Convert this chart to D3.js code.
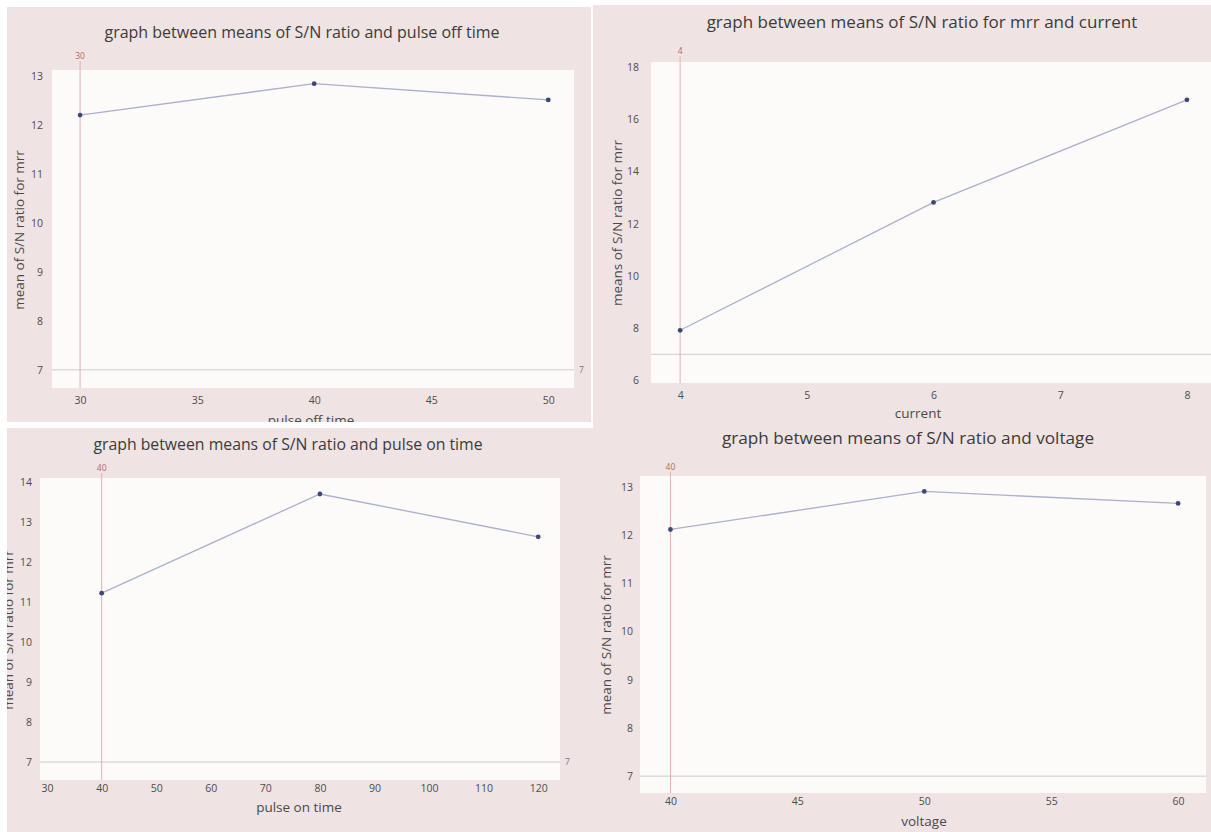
<!DOCTYPE html>
<html>
<head>
<meta charset="utf-8">
<script src="https://cdn.jsdelivr.net/npm/d3@7"></script>
<style>
	body{margin:0;background:#ffffff;}
	svg{display:block;}
	.panelBg{fill:#efe3e3;}
	.plotBg{fill:#fdfafa;}
	.title{font-family:"Open Sans",sans-serif;fill:#3b3b3b;text-anchor:middle;}
	.axisTitle{font-family:"Open Sans",sans-serif;font-size:13.5px;fill:#4a4a4a;text-anchor:middle;}
	.axis text{font-family:"Open Sans",sans-serif;font-size:10.5px;fill:#4d4d4d;}
	.refV{stroke:#e2b2b2;stroke-width:1;}
	.refH{stroke:#d3c9cd;stroke-width:1;}
	.refLabel{font-family:"Open Sans",sans-serif;font-size:8.5px;fill:#b46a6a;}
	.refLabelH{font-family:"Open Sans",sans-serif;font-size:8.5px;fill:#777777;}
	.meanLine{fill:none;stroke:#a9b1cd;stroke-width:1.3;}
	.meanPoint{fill:#3d4775;}
</style>
</head>
<body>
<script>
//wrap everything in a self-executing anonymous function to move to local scope
(function(){
	//data
	var offTime=[30,40,50];
	var offTimeSN=[12.2,12.84,12.51];
	var current=[4,6,8];
	var currentSN=[7.92,12.82,16.75];
	var onTime=[40,80,120];
	var onTimeSN=[11.22,13.7,12.63];
	var voltage=[40,50,60];
	var voltageSN=[12.12,12.91,12.66];

	//tick labels
	var offTimeTicks=[30,35,40,45,50];
	var currentTicks=[4,5,6,7,8];
	var onTimeTicks=[30,40,50,60,70,80,90,100,110,120];
	var voltageTicks=[40,45,50,55,60];
	var snTicks7to13=[7,8,9,10,11,12,13];
	var snTicks6to18=[6,8,10,12,14,16,18];
	var snTicks7to14=[7,8,9,10,11,12,13,14];

	//reference level drawn as a horizontal line in every plot
	var refLevel=7;

	var width=1211,
		height=832;

	var svg=d3.select("body")
		.append("svg")
		.attr("width",width)
		.attr("height",height);

	//panel layouts (drawn bottom ones first so the top-left sheet lies over them)
	var panels=[
		{
			bg:[589,419,622,413],plot:[640,476,566,317],rim:false,
			xDomain:[38.8,61.1],yDomain:[6.65,13.23],
			x:voltage,y:voltageSN,xTicks:voltageTicks,yTicks:snTicks7to13,
			title:"graph between means of S/N ratio and voltage",titlePos:[908,444],titleSize:17.2,
			xTitle:"voltage",xTitlePos:[924,826],
			yTitle:"mean of S/N ratio for mrr",yTitlePos:[606,635],
			xPad:5,yPad:7,refTop:472,showRight:false
		},
		{
			bg:[7,428,582,404],plot:[40,478,520,302],rim:false,
			xDomain:[28.7,124],yDomain:[6.55,14.1],
			x:onTime,y:onTimeSN,xTicks:onTimeTicks,yTicks:snTicks7to14,
			title:"graph between means of S/N ratio and pulse on time",titlePos:[288,450],titleSize:15.8,
			xTitle:"pulse on time",xTitlePos:[299,812],
			yTitle:"mean of S/N ratio for mrr",yTitlePos:[8,630],
			xPad:5,yPad:8,refTop:473,showRight:true
		},
		{
			bg:[593,5,618,414],plot:[651,62,560,321],rim:false,
			xDomain:[3.77,8.19],yDomain:[5.9,18.2],
			x:current,y:currentSN,xTicks:currentTicks,yTicks:snTicks6to18,
			title:"graph between means of S/N ratio for mrr and current",titlePos:[922,28],titleSize:17,
			xTitle:"current",xTitlePos:[918,418],
			yTitle:"means of S/N ratio for mrr",yTitlePos:[617,223],
			xPad:9,yPad:12,refTop:56,showRight:false
		},
		{
			bg:[7,7,584,415],plot:[52,70,522,318],rim:true,
			xDomain:[28.8,51.1],yDomain:[6.63,13.12],
			x:offTime,y:offTimeSN,xTicks:offTimeTicks,yTicks:snTicks7to13,
			title:"graph between means of S/N ratio and pulse off time",titlePos:[302,38],titleSize:16,
			xTitle:"pulse off time",xTitlePos:[311,425],
			yTitle:"mean of S/N ratio for mrr",yTitlePos:[19,230],
			xPad:9,yPad:9,refTop:61,showRight:true
		}
	];

	panels.forEach(function(p,i){
		makePanel(p,i);
	});

	//function to draw one main effects plot
	function makePanel(p,i){
		//clip everything of the panel to its sheet
		svg.append("clipPath")
			.attr("id","clip"+i)
			.append("rect")
			.attr("x",p.bg[0])
			.attr("y",p.bg[1])
			.attr("width",p.bg[2])
			.attr("height",p.bg[3]);

		//white rim under the top sheet
		if (p.rim){
			svg.append("rect")
				.attr("x",p.bg[0]-7)
				.attr("y",p.bg[1]-7)
				.attr("width",p.bg[2]+9)
				.attr("height",p.bg[3]+13)
				.style("fill","#ffffff");
		};

		var g=svg.append("g")
			.attr("clip-path","url(#clip"+i+")");

		g.append("rect")
			.attr("class","panelBg")
			.attr("x",p.bg[0])
			.attr("y",p.bg[1])
			.attr("width",p.bg[2])
			.attr("height",p.bg[3]);

		var px=p.plot[0],py=p.plot[1],pw=p.plot[2],ph=p.plot[3];

		g.append("rect")
			.attr("class","plotBg")
			.attr("x",px)
			.attr("y",py)
			.attr("width",pw)
			.attr("height",ph);

		//scales
		var xScale=d3.scaleLinear()
			.domain(p.xDomain)
			.range([px,px+pw]);
		var yScale=d3.scaleLinear()
			.domain(p.yDomain)
			.range([py+ph,py]);

		//axes without lines or tick marks
		var xAxis=d3.axisBottom(xScale)
			.tickValues(p.xTicks)
			.tickFormat(d3.format("d"))
			.tickSize(0)
			.tickPadding(p.xPad);
		var yAxis=d3.axisLeft(yScale)
			.tickValues(p.yTicks)
			.tickFormat(d3.format("d"))
			.tickSize(0)
			.tickPadding(p.yPad);

		g.append("g")
			.attr("class","axis")
			.attr("transform","translate(0,"+(py+ph)+")")
			.call(xAxis)
			.call(function(a){a.select(".domain").remove();});
		g.append("g")
			.attr("class","axis")
			.attr("transform","translate("+px+",0)")
			.call(yAxis)
			.call(function(a){a.select(".domain").remove();});

		//horizontal reference line
		g.append("line")
			.attr("class","refH")
			.attr("x1",px)
			.attr("x2",px+pw)
			.attr("y1",yScale(refLevel))
			.attr("y2",yScale(refLevel));
		if (p.showRight){
			g.append("text")
				.attr("class","refLabelH")
				.attr("x",px+pw+5)
				.attr("y",yScale(refLevel))
				.attr("dy","0.35em")
				.text(refLevel);
		};

		//vertical reference line at the first level
		g.append("line")
			.attr("class","refV")
			.attr("x1",xScale(p.x[0]))
			.attr("x2",xScale(p.x[0]))
			.attr("y1",p.refTop)
			.attr("y2",py+ph);
		g.append("text")
			.attr("class","refLabel")
			.attr("x",xScale(p.x[0]))
			.attr("y",p.refTop-2)
			.attr("text-anchor","middle")
			.text(p.x[0]);

		//mean line and points
		var pts=p.x.map(function(d,k){return [d,p.y[k]];});
		var line=d3.line()
			.x(function(d){return xScale(d[0]);})
			.y(function(d){return yScale(d[1]);});

		g.append("path")
			.datum(pts)
			.attr("class","meanLine")
			.attr("d",line);

		g.selectAll(".meanPoint"+i)
			.data(pts)
			.enter()
			.append("circle")
			.attr("class","meanPoint")
			.attr("cx",function(d){return xScale(d[0]);})
			.attr("cy",function(d){return yScale(d[1]);})
			.attr("r",2.4);

		//titles
		g.append("text")
			.attr("class","title")
			.attr("x",p.titlePos[0])
			.attr("y",p.titlePos[1])
			.style("font-size",p.titleSize+"px")
			.text(p.title);
		g.append("text")
			.attr("class","axisTitle")
			.attr("x",p.xTitlePos[0])
			.attr("y",p.xTitlePos[1])
			.text(p.xTitle);
		g.append("text")
			.attr("class","axisTitle")
			.attr("transform","translate("+p.yTitlePos[0]+","+p.yTitlePos[1]+") rotate(-90)")
			.attr("dy","0.35em")
			.text(p.yTitle);
	};
})();
</script>
</body>
</html>
